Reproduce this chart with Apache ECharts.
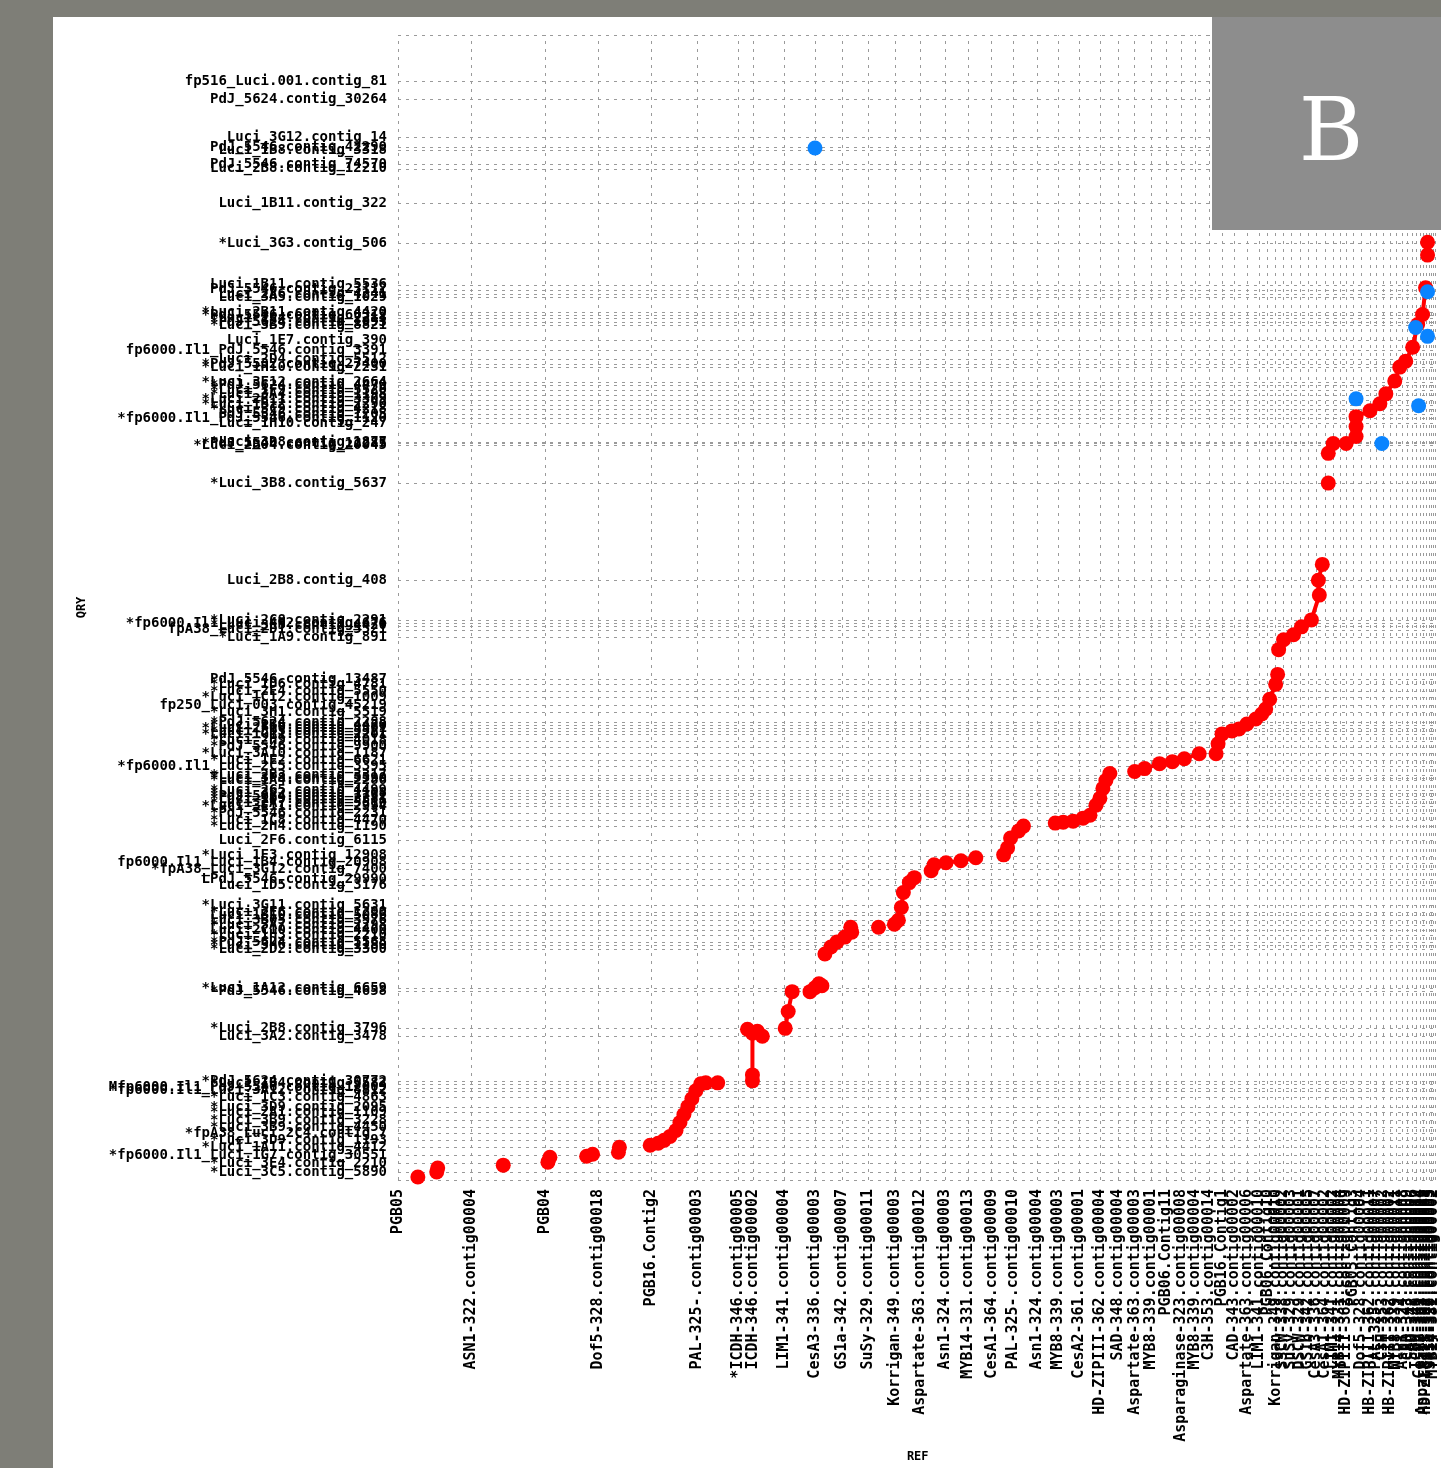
<!DOCTYPE html>
<html><head><meta charset="utf-8">
<script src="https://cdn.jsdelivr.net/npm/echarts@6/dist/echarts.min.js"></script>
<style>
html,body{margin:0;padding:0;background:#7e7e77;width:1441px;height:1468px;overflow:hidden}
#panel{position:absolute;left:53px;top:17px;width:1388px;height:1451px;background:#fff}
#chart{position:absolute;left:0;top:0;width:1441px;height:1468px}
</style></head><body><div id="panel"></div><div id="chart"></div>
<script>
// Reference (x) sequence start offsets and names
const refStarts = [0,74,148,202,255,301,343,358,389,420,447,474,501,526,551,574,598,620,644,665,686,707,725,742,759,774,789,803,817,830,842,855,867,876,884,892,900,909,917,925,934,942,949,955,962,970,979,985,992,999,1005,1012,1017,1022,1026,1030,1033,1036,1039,1041,1043,1045];
const refNames = ["PGB05","ASN1-322.contig00004","PGB04","Dof5-328.contig00018","PGB16.Contig2","PAL-325-.contig00003","*ICDH-346.contig00005","ICDH-346.contig00002","LIM1-341.contig00004","CesA3-336.contig00003","GS1a-342.contig00007","SuSy-329.contig00011","Korrigan-349.contig00003","Aspartate-363.contig00012","Asn1-324.contig00003","MYB14-331.contig00013","CesA1-364.contig00009","PAL-325-.contig00010","Asn1-324.contig00004","MYB8-339.contig00003","CesA2-361.contig00001","HD-ZIPIII-362.contig00004","SAD-348.contig00004","Aspartate-363.contig00003","MYB8-339.contig00001","PGB06.Contig11","Asparaginase-323.contig00008","MYB8-339.contig00004","C3H-353.contig00014","PGB16.Contig1","CAD-343.contig00002","Aspartate-363.contig00006","LIM1-341.contig00010","PGB06.Contig10","Korrigan-349.contig00010","SSCW-338.contig00002","SuSy-329.contig00003","DSCW-329.contig00001","GS1b-342.contig00005","CesA3-336.contig00007","CesA1-364.contig00002","LIM1-341.contig00002","MYB14-331.contig00004","HD-ZIPIII-362.contig00009","PGB05.Contig3","Dof5-328.contig00004","HB-ZIPIII-362.contig00011","PAL-325-.contig00007","C3H-353.contig00002","HB-ZIPIII-362.contig00002","MYB8-339.contig00011","Asn1-324.contig00008","CAD-343.contig00009","SAD-348.contig00006","ICDH-346.contig00012","CesA2-361.contig00004","Aspartate-363.contig00015","HD-ZIPIII-362.contig00008","GS1a-342.contig00003","SuSy-329.contig00005","MYB14-331.contig00002","HD-ZIPIII-362.contig00001"];

// Query (y) sequence start offsets and names
const qryStarts = [0,8,17,25,33,40,47,53,60,68,73,83,90,93,97,100,145,153,190,193,233,237,240,247,252,257,262,267,270,277,297,303,313,320,327,343,357,363,370,377,380,384,387,390,393,403,405,408,417,423,430,437,443,450,453,456,459,462,472,479,487,493,500,505,547,555,559,562,565,605,703,741,743,744,763,768,772,777,782,787,792,797,802,805,820,823,828,837,847,862,865,869,872,875,890,893,898,903,945,985,1020,1025,1039,1042,1052,1090,1108];
const qryNames = ["*Luci_2B10.contig_5666","*Luci_3C5.contig_5890","*Luci_3E4.contig_2210","*fp6000.Il1_Luci_1G7.contig_30551","*Luci_1A11.contig_4412","*Luci_3D9.contig_1193","*fpA38_Luci_2C4.contig_7","*Luci_3B9.contig_4450","*Luci_3B9.contig_3228","*Luci_2A1.contig_1109","*Luci_3D9.contig_2095","*Luci_1C3.contig_4863","*fp6000.Il1_Luci_3A12.contig_8812","Mfp6000.Il1_PdJ_5546.contig_12009","*Luci_1B4.contig_5582","*PdJ_5624.contig_30772","Luci_3A2.contig_3478","*Luci_2B8.contig_3796","*PdJ_5546.contig_4658","*Luci_1A12.contig_6659","*Luci_2D2.contig_3300","*Luci_3H6.contig_1180","*PdJ_5624.contig_5568","*Luci_1H3.contig_2210","Luci_2C10.contig_4400","*Luci_3A7.contig_2298","Luci_3B05.contig_3976","Luci_1B10.contig_5086","*Luci_2E6.contig_1200","*Luci_3G11.contig_5631","Luci_1D5.contig_3176","LPdJ_5546.contig_29990","*fpA38_Luci_3G12.contig_7400","fp6000.Il1_Luci_1B4.contig_20908","*Luci_1F3.contig_12908","Luci_2F6.contig_6115","*Luci_2H4.contig_1190","*Luci_1C8.contig_4470","*PdJ_5546.contig_2231","*Luci_3E11.contig_2994","*Luci_2A7.contig_5510","*Luci_1D9.contig_3381","*PdJ_5624.contig_7752","*Luci_3C2.contig_1108","*Luci_2G5.contig_4499","*Luci_1A4.contig_2286","*Luci_3F8.contig_5590","*Luci_2B3.contig_3317","*fp6000.Il1_Luci_2C5.contig_3395","*Luci_1E2.contig_6621","*Luci_3A10.contig_1187","*PdJ_5546.contig_9900","*Luci_2H9.contig_4018","*Luci_1G11.contig_2201","*Luci_3D3.contig_5527","*Luci_2F10.contig_3301","*Luci_1B6.contig_4470","*PdJ_5624.contig_2288","*Luci_3H1.contig_5519","fp250_Luci.003.contig_45219","*Luci_1C12.contig_1009","*Luci_2E4.contig_5550","*Luci_1D6.contig_4781","PdJ_5546.contig_13487","*Luci_1A9.contig_891","fpA38_Luci_2D1.contig_5521","*Luci_3E5.contig_4420","*fp6000.Il1_Luci_4H2.contig_676","*Luci_2C8.contig_2291","Luci_2B8.contig_408","*Luci_3B8.contig_5637","*Luci_2B04.contig_20045","*PdJ_5546.contig_12285","*Luci_3D8.contig_1877","Luci_1H10.contig_247","*fp6000.Il1_PdJ_5546.contig_1120","PdJ_5546.contig_1205","*Luci_3C9.contig_4218","*Luci_1B12.contig_2290","*Luci_2E11.contig_3309","*Luci_3A4.contig_1198","*Luci_1F9.contig_5520","*PdJ_5624.contig_4470","*Luci_3F12.contig_2664","*Luci_1H10.contig_2231","*PdJ_5532.contig_27400","Luci_2D4.contig_5512","fp6000.Il1_PdJ_5546.contig_3391","Luci_1E7.contig_390","*Luci_3B9.contig_8821","*PdJ_5624.contig_1093","*Luci_1C4.contig_2213","*PdJ_5546.contig_66312","*Luci_2B11.contig_4420","Luci_3A5.contig_1029","Luci_2A6.contig_4241","PdJ_5546.contig_23112","Luci_1B11.contig_5536","*Luci_3G3.contig_506","Luci_1B11.contig_322","Luci_2B8.contig_12210","PdJ_5546.contig_74570","Luci_1B8.contig_3318","PdJ_5546.contig_42290","Luci_3G12.contig_14","PdJ_5624.contig_30264","fp516_Luci.001.contig_81"];

// Forward matches (red), as chains of [ref, qry] points
const fwdMatches = [
 [[20,3]],
 [[39,8],[40,12]],
 [[106,15]],
 [[151,18],[153,23]],
 [[190,24],[196,26]],
 [[222,28],[223,33]],
 [[254,35],[262,37],[268,40],[274,44],[280,50],[284,58],[288,66],[292,74],[296,82],[300,90],[305,97],[310,98]],
 [[322,98]],
 [[357,100],[357,106],[357,148],[352,152],[362,150],[367,145]],
 [[390,153],[393,170],[397,190]],
 [[415,190],[420,194],[424,198],[427,196]],
 [[430,228],[436,235],[442,240],[450,245],[457,250],[456,255]],
 [[484,255]],
 [[500,258],[504,262],[507,275],[509,290],[515,300],[520,305]],
 [[537,312],[540,318]],
 [[552,320],[567,322],[582,325]],
 [[610,328],[614,335],[617,345],[625,352],[630,357]],
 [[662,360],[670,361],[680,362],[690,365],[697,368],[703,378],[707,385],[710,395],[713,403],[717,410]],
 [[742,412],[752,415],[767,420],[780,422],[792,425],[807,430]],
 [[824,430],[826,440],[830,450],[840,453],[847,455],[855,460],[864,465],[870,470],[874,475],[878,485],[884,500],[886,510]],
 [[887,535],[892,545],[902,550],[910,558],[920,565],[928,590],[927,605],[931,621]],
 [[937,703]],
 [[937,733],[942,743],[955,743],[965,750],[965,760],[965,770],[979,776],[989,783],[995,793],[1004,806],[1009,820],[1015,826],[1022,840],[1027,863],[1032,873],[1035,900]],
 [[1037,933],[1037,946]]
];
// Reverse matches (blue)
const revMatches = [[420,1041],[965,788],[1028,781],[991,743],[1025,860],[1037,896],[1037,851]];

const MONO = '"DejaVu Sans Mono", "Liberation Mono", monospace';
const refMap = new Map(refStarts.map((v,i)=>[v,refNames[i]]));
const qryMap = new Map(qryStarts.map((v,i)=>[v,qryNames[i]]));
const X_MAX = 1047, Y_MAX = 1155;

const gridLineData = [].concat(
  refStarts.map(v=>({xAxis:v})),
  qryStarts.map(v=>({yAxis:v})),
  [{yAxis:Y_MAX}]
);

const series = [{
  type:'scatter', data:[[0,0]], symbolSize:0, z:1, silent:true,
  markLine:{silent:true, z:1, symbol:'none', animation:false, label:{show:false},
    lineStyle:{color:'#9a9a9a', type:[3,5], width:1}, emphasis:{disabled:true},
    data:gridLineData}
}];
fwdMatches.forEach(ch=>{
  if (ch.length > 1) series.push({type:'line', data:ch, showSymbol:false, symbol:'none',
    lineStyle:{color:'#ff0000', width:4}, z:10, animation:false, silent:true});
});
series.push({type:'scatter', data:[].concat(...fwdMatches), symbol:'circle', symbolSize:15,
  itemStyle:{color:'#ff0000', opacity:1, borderWidth:0}, z:11, animation:false, silent:true});
series.push({type:'scatter', data:revMatches, symbol:'circle', symbolSize:15,
  itemStyle:{color:'#0a84ff', opacity:1, borderWidth:0}, z:12, animation:false, silent:true});

const chart = echarts.init(document.getElementById('chart'));
chart.setOption({
  backgroundColor:'transparent',
  animation:false,
  grid:{left:398, top:35, width:1047, height:1155, containLabel:false},
  xAxis:{type:'value', min:0, max:X_MAX, name:'REF', nameLocation:'middle', nameGap:271,
    nameTextStyle:{fontFamily:MONO, fontSize:12, fontWeight:'bold', color:'#000'},
    axisLine:{show:false}, axisTick:{show:false}, splitLine:{show:false},
    axisLabel:{customValues:refStarts, rotate:90, margin:9, fontFamily:MONO, fontSize:15, fontWeight:'bold', color:'#000',
      formatter:v=>refMap.has(v)?refMap.get(v):''}},
  yAxis:{type:'value', min:0, max:Y_MAX, name:'QRY', nameLocation:'middle', nameGap:310, nameRotate:90,
    nameTextStyle:{fontFamily:MONO, fontSize:12, fontWeight:'bold', color:'#000'},
    axisLine:{show:false}, axisTick:{show:false}, splitLine:{show:false},
    axisLabel:{customValues:qryStarts, margin:11, fontFamily:MONO, fontSize:14, fontWeight:'bold', color:'#000',
      formatter:v=>qryMap.has(v)?qryMap.get(v):''}},
  series:series,
  graphic:[
    {type:'rect', left:1212, top:17, shape:{width:229, height:213}, style:{fill:'#8d8d8d'}, z:100},
    {type:'text', x:1331, y:137, style:{text:'B', fill:'#fff', font:'88px "DejaVu Serif", serif', align:'center', verticalAlign:'middle'}, z:101}
  ]
});
</script></body></html>
